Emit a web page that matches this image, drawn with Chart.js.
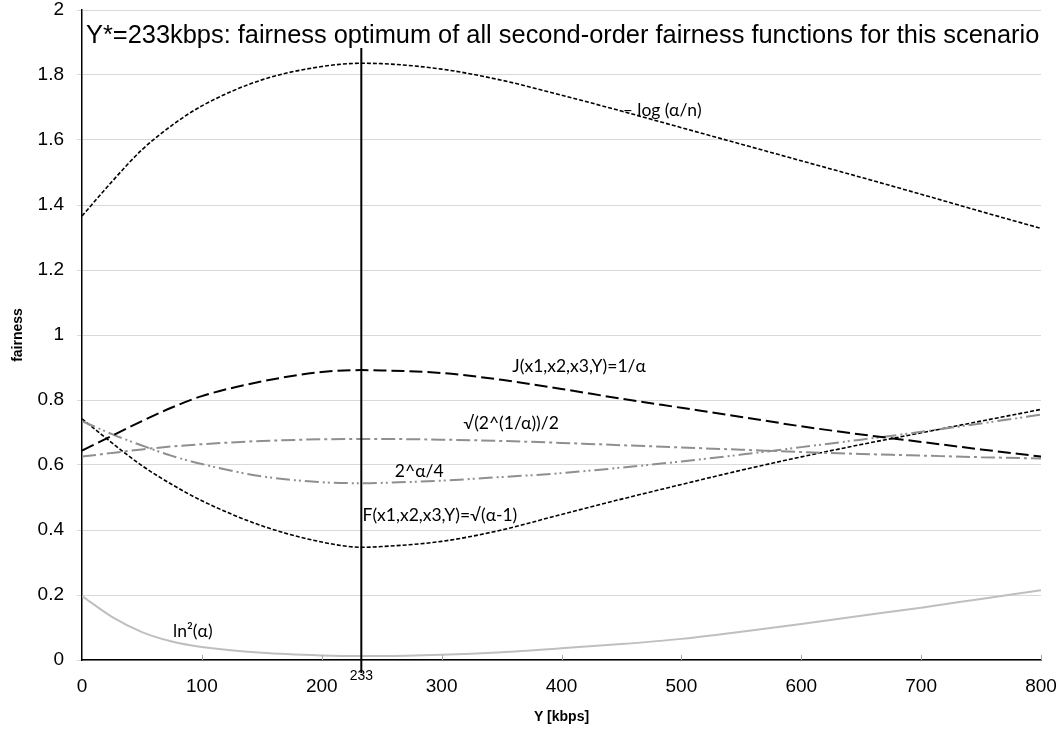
<!DOCTYPE html>
<html>
<head>
<meta charset="utf-8">
<script src="https://cdn.jsdelivr.net/npm/chart.js@4"></script>
<style>
  html, body { margin: 0; padding: 0; background: #fff; }
</style>
</head>
<body>
<canvas id="fairChart" width="1064" height="738"></canvas>
<script>
// ---- data ----
const xValues  = [0, 25, 50, 75, 100, 150, 200, 233, 250, 300, 350, 400, 450, 500, 550, 600, 650, 700, 750, 800];
const negLog   = [1.366, 1.472, 1.57, 1.645, 1.705, 1.785, 1.826, 1.836, 1.835, 1.818, 1.784, 1.738, 1.689, 1.638, 1.587, 1.536, 1.485, 1.433, 1.38, 1.328];
const jainJ    = [0.644, 0.69, 0.735, 0.777, 0.812, 0.857, 0.886, 0.892, 0.891, 0.883, 0.862, 0.834, 0.804, 0.776, 0.748, 0.719, 0.694, 0.671, 0.648, 0.626];
const sqrtPow  = [0.626, 0.637, 0.648, 0.657, 0.664, 0.674, 0.679, 0.68, 0.68, 0.678, 0.674, 0.668, 0.661, 0.654, 0.647, 0.64, 0.634, 0.629, 0.624, 0.62];
const powQuart = [0.735, 0.695, 0.66, 0.628, 0.603, 0.565, 0.547, 0.544, 0.545, 0.552, 0.563, 0.575, 0.592, 0.611, 0.632, 0.655, 0.678, 0.702, 0.728, 0.755];
const fSqrt    = [0.742, 0.668, 0.598, 0.54, 0.49, 0.413, 0.363, 0.347, 0.349, 0.365, 0.4, 0.448, 0.495, 0.54, 0.584, 0.625, 0.663, 0.699, 0.735, 0.771];
const lnSq     = [0.197, 0.133, 0.086, 0.057, 0.04, 0.022, 0.014, 0.012, 0.012, 0.016, 0.024, 0.036, 0.049, 0.065, 0.087, 0.111, 0.136, 0.161, 0.188, 0.215];

const yStar = 233;
const optimumLine = [-0.04, 1.883];   // vertical marker extent (fairness units)
const titleText = 'Y*=233kbps: fairness optimum of all second-order fairness functions for this scenario';

// curve labels, placed in data coordinates
const curveLabels = [
  { text: '\u2013 log (\u03b1/n)',        x: 451, y: 1.692 },
  { text: 'J(x1,x2,x3,Y)=1/\u03b1',        x: 359, y: 0.905 },
  { text: '\u221a(2^(1/\u03b1))/2',        x: 318, y: 0.729 },
  { text: '2^\u03b1/4',                    x: 261, y: 0.58 },
  { text: 'F(x1,x2,x3,Y)=\u221a(\u03b1-1)', x: 234, y: 0.446 },
  { text: 'ln\u00b2(\u03b1)',              x: 76,  y: 0.089 }
];

const toPoints = arr => arr.map((v, i) => ({ x: xValues[i], y: v }));

// text + inner tick marks drawn on top of the plot
const textPlugin = {
  id: 'chartTexts',
  afterDatasetsDraw(chart) {
    const { ctx, chartArea, scales: { x, y } } = chart;
    ctx.save();

    // small tick marks pointing up into the plot on the x axis
    ctx.strokeStyle = '#a6a6a6';
    ctx.lineWidth = 1;
    x.ticks.forEach(t => {
      if (t.value === 0) return;
      const px = Math.round(x.getPixelForValue(t.value)) + 0.5;
      ctx.beginPath();
      ctx.moveTo(px, chartArea.bottom);
      ctx.lineTo(px, chartArea.bottom - 5);
      ctx.stroke();
    });

    ctx.fillStyle = '#000';
    ctx.textBaseline = 'middle';
    ctx.textAlign = 'left';
    ctx.font = '17.5px Lato';
    curveLabels.forEach(l => {
      ctx.fillText(l.text, x.getPixelForValue(l.x), y.getPixelForValue(l.y));
    });

    ctx.font = '25.4px "Liberation Sans"';
    ctx.fillText(titleText, chartArea.left + 4, y.getPixelForValue(1.92));

    ctx.font = '14px "Liberation Sans"';
    ctx.textAlign = 'center';
    ctx.fillText(String(yStar), x.getPixelForValue(yStar), chartArea.bottom + 16);
    ctx.restore();
  }
};

const grayMid = '#8f8f8f';

new Chart(document.getElementById('fairChart').getContext('2d'), {
  type: 'line',
  data: {
    datasets: [
      {
        label: 'Y*',
        data: optimumLine.map(v => ({ x: yStar, y: v })),
        borderColor: '#000', borderWidth: 2, pointRadius: 0, clip: false
      },
      {
        label: '-log(a/n)', data: toPoints(negLog),
        borderColor: '#000', borderWidth: 1.6, borderDash: [4, 2]
      },
      {
        label: 'J', data: toPoints(jainJ),
        borderColor: '#000', borderWidth: 2, borderDash: [13, 5]
      },
      {
        label: 'sqrt(2^(1/a))/2', data: toPoints(sqrtPow),
        borderColor: grayMid, borderWidth: 2, borderDash: [14, 4, 3, 4]
      },
      {
        label: '2^a/4', data: toPoints(powQuart),
        borderColor: grayMid, borderWidth: 2, borderDash: [14, 4, 2, 3, 2, 4]
      },
      {
        label: 'F', data: toPoints(fSqrt),
        borderColor: '#000', borderWidth: 1.6, borderDash: [4, 2]
      },
      {
        label: 'ln2(a)', data: toPoints(lnSq),
        borderColor: '#bfbfbf', borderWidth: 2
      }
    ]
  },
  options: {
    responsive: false,
    animation: false,
    devicePixelRatio: 1,
    layout: { padding: { left: 0, top: 10, right: 23, bottom: 0 } },
    elements: {
      point: { radius: 0 },
      line: { cubicInterpolationMode: 'monotone', fill: false }
    },
    plugins: {
      legend: { display: false },
      tooltip: { enabled: false }
    },
    scales: {
      x: {
        type: 'linear', min: 0, max: 800,
        afterFit: s => { s.height = 78; s.paddingLeft = 0; s.paddingRight = 0; },
        ticks: { stepSize: 100, color: '#000', padding: 15, maxRotation: 0,
                 font: { family: '"Liberation Sans"', size: 19 } },
        grid: { display: false, drawTicks: false },
        border: { display: true, color: '#000', width: 1.5 },
        title: { display: true, text: 'Y [kbps]', color: '#000',
                 font: { family: '"Liberation Sans"', size: 14, weight: 'bold' },
                 padding: { top: 0, bottom: 12 } }
      },
      y: {
        min: 0, max: 2,
        afterFit: s => { s.width = 82; s.paddingTop = 0; s.paddingBottom = 0; },
        ticks: { stepSize: 0.2, color: '#000', padding: 13,
                 font: { family: '"Liberation Sans"', size: 19 },
                 callback: v => String(+v.toFixed(1)) },
        grid: { color: '#d9d9d9', lineWidth: 1, tickLength: 5 },
        border: { display: true, color: '#000', width: 1.5 },
        title: { display: true, text: 'fairness', color: '#000',
                 font: { family: '"Liberation Sans"', size: 14, weight: 'bold' },
                 padding: { top: 10, bottom: 0 } }
      }
    }
  },
  plugins: [textPlugin]
});
</script>
</body>
</html>
